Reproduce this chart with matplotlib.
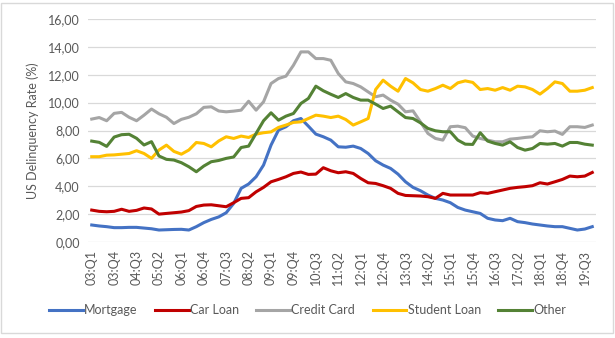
import matplotlib
matplotlib.use("Agg")
import matplotlib.pyplot as plt
from matplotlib.patches import Rectangle

plt.rcParams['font.family'] = ['Lato', 'DejaVu Sans']

# quarters 03:Q1 .. 19:Q4
quarters = []
for yr in range(3, 20):
    for q in range(1, 5):
        quarters.append('%02d:Q%d' % (yr, q))

mortgage = [1.22, 1.15, 1.1, 1.03, 1.03, 1.05, 1.05, 1.0, 0.95, 0.86, 0.88, 0.9, 0.91, 0.86, 1.1, 1.39,
            1.62, 1.8, 2.1, 2.77, 3.85, 4.16, 4.68, 5.52, 6.95, 8.03, 8.27, 8.7, 8.86, 8.31, 7.74, 7.55,
            7.31, 6.83, 6.8, 6.88, 6.71, 6.35, 5.83, 5.52, 5.28, 4.87, 4.32, 3.92, 3.68, 3.37, 3.13, 3.01,
            2.82, 2.48, 2.29, 2.17, 2.05, 1.7, 1.58, 1.53, 1.7, 1.46, 1.39, 1.29, 1.22, 1.15, 1.1, 1.1,
            0.98, 0.86, 0.93, 1.1]
car_loan = [2.29, 2.2, 2.17, 2.2, 2.35, 2.2, 2.27, 2.44, 2.37, 2.0, 2.05, 2.1, 2.15, 2.25, 2.55, 2.65,
            2.67, 2.6, 2.53, 2.82, 3.13, 3.18, 3.6, 3.92, 4.32, 4.49, 4.68, 4.92, 5.02, 4.85, 4.87, 5.33,
            5.11, 4.97, 5.04, 4.92, 4.56, 4.25, 4.2, 4.04, 3.85, 3.49, 3.34, 3.32, 3.3, 3.25, 3.13, 3.49,
            3.37, 3.37, 3.37, 3.37, 3.54, 3.49, 3.61, 3.73, 3.85, 3.92, 3.97, 4.04, 4.25, 4.16, 4.32, 4.49,
            4.73, 4.68, 4.73, 4.99]
credit_card = [8.82, 8.93, 8.7, 9.23, 9.3, 8.95, 8.7, 9.1, 9.54, 9.2, 8.95, 8.5, 8.8, 8.95, 9.2, 9.66,
               9.7, 9.4, 9.34, 9.39, 9.46, 10.1, 9.46, 10.06, 11.37, 11.73, 11.9, 12.68, 13.64, 13.64, 13.16, 13.16,
               13.04, 12.09, 11.49, 11.37, 11.13, 10.77, 10.42, 10.54, 10.18, 9.89, 9.34, 9.41, 8.62, 7.79, 7.43, 7.31,
               8.27, 8.31, 8.2, 7.6, 7.43, 7.31, 7.19, 7.19, 7.38, 7.43, 7.5, 7.55, 7.98, 7.91, 7.96, 7.72,
               8.27, 8.27, 8.22, 8.39]
student_loan = [6.12, 6.12, 6.23, 6.25, 6.3, 6.35, 6.55, 6.35, 6.0, 6.6, 6.95, 6.5, 6.3, 6.6, 7.14, 7.07,
                6.83, 7.25, 7.55, 7.43, 7.6, 7.5, 7.74, 7.84, 7.9, 8.22, 8.39, 8.58, 8.62, 8.86, 9.1, 9.03,
                8.93, 9.03, 8.79, 8.39, 8.62, 8.86, 10.94, 11.61, 11.18, 10.82, 11.73, 11.42, 10.94, 10.82, 11.01, 11.25,
                11.01, 11.42, 11.56, 11.45, 10.94, 11.01, 10.89, 11.08, 10.89, 11.18, 11.13, 10.94, 10.61, 11.01, 11.49, 11.37,
                10.82, 10.82, 10.89, 11.08]
other = [7.24, 7.15, 6.86, 7.53, 7.7, 7.73, 7.44, 6.96, 7.2, 6.17, 5.93, 5.88, 5.69, 5.4, 5.04, 5.45,
         5.76, 5.85, 6.0, 6.1, 6.78, 6.88, 7.79, 8.7, 9.27, 8.74, 9.03, 9.22, 9.94, 10.3, 11.18, 10.85,
         10.6, 10.37, 10.65, 10.37, 10.18, 10.18, 9.89, 9.58, 9.75, 9.34, 8.93, 8.86, 8.55, 8.15, 7.98, 7.91,
         7.91, 7.31, 7.02, 7.0, 7.84, 7.24, 7.07, 6.95, 7.19, 6.78, 6.59, 6.71, 7.07, 7.02, 7.07, 6.88,
         7.14, 7.14, 7.02, 6.95]

series = [('Mortgage', mortgage, '#4472C4'),
          ('Car Loan', car_loan, '#C00000'),
          ('Credit Card', credit_card, '#A5A5A5'),
          ('Student Loan', student_loan, '#FFC000'),
          ('Other', other, '#548235')]

fig = plt.figure(figsize=(6.15, 3.38), dpi=100)
ax = fig.add_axes([88/615, 1-242/338, (596-88)/615, (242-19)/338])

x = list(range(len(quarters)))
for name, vals, col in series:
    ax.plot(x, vals, color=col, lw=2.2, label=name, solid_joinstyle='round')

txt = '#595959'
ax.set_xlim(-0.5, len(quarters) - 0.5)
ax.set_ylim(0, 16)
ax.set_yticks(range(0, 17, 2))
ax.set_yticklabels(['%d,00' % v for v in range(0, 17, 2)], color=txt, fontsize=9)
ax.set_xticks(x[::3])
ax.set_xticklabels(quarters[::3], rotation=90, color=txt, fontsize=9)
ax.tick_params(length=0, pad=6)
ax.grid(axis='y', color='#d9d9d9', lw=0.9)
ax.set_axisbelow(True)
for s in ax.spines.values():
    s.set_visible(False)
ax.set_ylabel('US Delinquency Rate (%)', color=txt, fontsize=9, labelpad=6)

fig.legend(loc='center', bbox_to_anchor=(0.5, 1-310/338), ncol=5, frameon=False,
           fontsize=9, handlelength=2.7, handletextpad=0.1, columnspacing=1.4,
           labelcolor=txt)

fig.patches.append(Rectangle((1/615, 1-333/338), 612/615, 330/338, transform=fig.transFigure,
                             fill=False, edgecolor='#d9d9d9', lw=1))

fig.savefig('out.png', dpi=100)
